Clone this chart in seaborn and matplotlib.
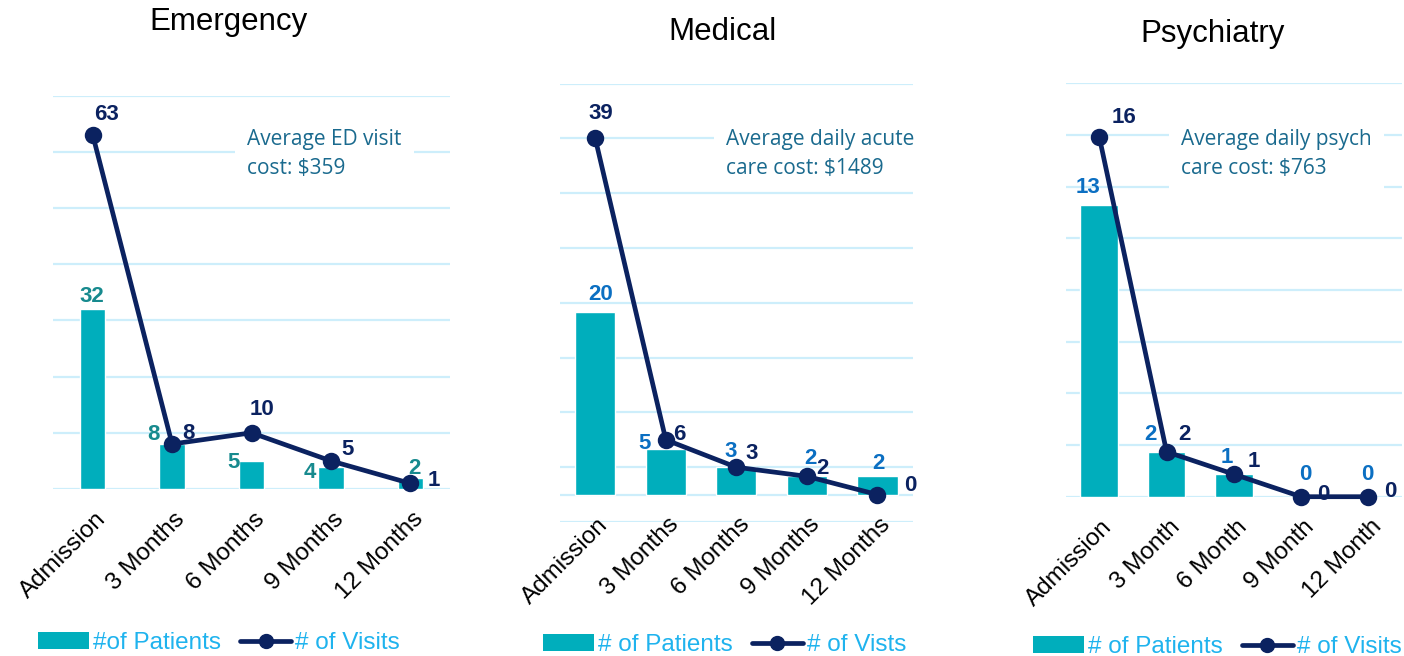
import numpy as np
import seaborn as sns
import matplotlib.pyplot as plt
from matplotlib.patches import Patch
from matplotlib.lines import Line2D

# data
cats_months = ["Admission", "3 Months", "6 Months", "9 Months", "12 Months"]
cats_month = ["Admission", "3 Month", "6 Month", "9 Month", "12 Month"]

patients_ed = [32, 8, 5, 4, 2]
visits_ed = [63, 8, 10, 5, 1]
patients_med = [20, 5, 3, 2, 2]
visits_med = [39, 6, 3, 2, 0]
patients_psy = [13, 2, 1, 0, 0]
visits_psy = [16, 2, 1, 0, 0]

titles = ["Emergency", "Medical", "Psychiatry"]
notes = ["Average ED visit\ncost: $359",
         "Average daily acute\ncare cost: $1489",
         "Average daily psych\ncare cost: $763"]
legend_labels = [("#of Patients", "# of Visits"),
                 ("# of Patients", "# of Vists"),
                 ("# of Patients", "# of Visits")]

TEAL = "#00AEBC"
NAVY = "#0B2260"
GRID = "#CDEEFB"
NOTE = "#1A6A8E"
LEGEND_TXT = "#1FB3EE"

sns.set_style("white")
plt.rcParams["font.family"] = ["Liberation Sans", "DejaVu Sans"]

W, H = 1404, 656
fig = plt.figure(figsize=(W / 100, H / 100), dpi=100)


def fx(px):
    return px / W


def fy(py):
    return 1 - py / H


def make_panel(rect_px, cats, patients, visits, bar_w, yticks, ylim,
               bar_lab_color, bar_offs, line_offs):
    l, t, r, b = rect_px
    ax = fig.add_axes([fx(l), fy(b), fx(r - l), (b - t) / H])
    sns.barplot(x=cats, y=patients, color=TEAL, saturation=1, width=bar_w,
                ax=ax, zorder=2)
    sns.pointplot(x=cats, y=visits, color=NAVY, ax=ax, markersize=10,
                  linewidth=3.4, zorder=4)
    for ln in ax.lines:
        ln.set_clip_on(False)
    ax.set_xlim(-0.5, 4.5)
    ax.set_ylim(*ylim)
    ax.set_yticks(yticks)
    ax.yaxis.grid(True, color=GRID, linewidth=1.6)
    ax.set_axisbelow(True)
    ax.tick_params(axis="both", length=0, labelleft=False, labelbottom=False)
    ax.set_xlabel("")
    ax.set_ylabel("")
    sns.despine(ax=ax, left=True, bottom=True)
    for i, c in enumerate(cats):
        ax.annotate(c, xy=(i, 0), xytext=(2, -19), textcoords="offset pixels",
                    rotation=45, ha="right", va="top", rotation_mode="anchor",
                    fontsize=17.5, color="black", annotation_clip=False)
    for i, v in enumerate(patients):
        ax.annotate(str(v), xy=(i, v), xytext=bar_offs[i], textcoords="offset pixels",
                    ha="center", va="center", fontsize=16, fontweight="bold",
                    color=bar_lab_color, zorder=5, annotation_clip=False)
    for i, v in enumerate(visits):
        ax.annotate(str(v), xy=(i, v), xytext=line_offs[i], textcoords="offset pixels",
                    ha="center", va="center", fontsize=16, fontweight="bold",
                    color=NAVY, zorder=5, annotation_clip=False)
    return ax


make_panel((53, 95.5, 450, 489), cats_months, patients_ed, visits_ed, 0.32,
           [0, 10, 20, 30, 40, 50, 60, 70], (0, 70), "#178A8E",
           [(-1, 13), (-19, 10), (-18, -2), (-21, -6), (4, 9)],
           [(14, 20), (16, 11), (10, 23), (17, 11), (24, 3)])
make_panel((560, 83.7, 912.7, 522), cats_months, patients_med, visits_med, 0.57,
           [-3, 0, 3, 9, 15, 21, 27, 33, 39, 45], (-3, 45), "#0B6FC2",
           [(5, 17), (-21, 5), (-6, 16), (4, 18), (1, 13)],
           [(6, 25), (14, 5), (15, 14), (16, 8), (33, 9)])
make_panel((1065.7, 83.3, 1402, 496.7), cats_month, patients_psy, visits_psy, 0.56,
           [0, 2.3, 4.6, 6.9, 9.2, 11.5, 13.8, 16.1, 18.4], (0, 18.4), "#0B6FC2",
           [(-11, 17), (-16, 17), (-7, 17), (4, 22), (-1, 22)],
           [(25, 20), (18, 17), (20, 13), (22, 2), (22, 5)])

# titles
for (x, y), t in zip([(228, 22), (723, 32), (1213, 34)], titles):
    fig.text(fx(x), fy(y), t, ha="center", va="center", fontsize=22.5, color="black")

# cost notes with white box hiding gridlines
for (x, y), n in zip([(247, 154), (726, 154), (1181, 154)], notes):
    fig.text(fx(x), fy(y), n, ha="left", va="center", fontsize=15,
             family=["Open Sans", "DejaVu Sans"], color=NOTE, linespacing=1.45,
             bbox=dict(facecolor="white", edgecolor="none", pad=9), zorder=5)

# legends
for (x, y), (lp, lv) in zip([(38, 643), (543, 645), (1033, 647)], legend_labels):
    handles = [Patch(facecolor=TEAL, edgecolor="none"),
               Line2D([], [], color=NAVY, marker="o", linewidth=3.4, markersize=10)]
    fig.legend(handles, [lp, lv], loc="center left", bbox_to_anchor=(fx(x), fy(y)),
               ncol=2, frameon=False, fontsize=17.5, handlelength=2.1,
               handletextpad=0.15, columnspacing=0.8, borderpad=0, borderaxespad=0,
               labelcolor=LEGEND_TXT)

fig.savefig("out.png", dpi=100)
